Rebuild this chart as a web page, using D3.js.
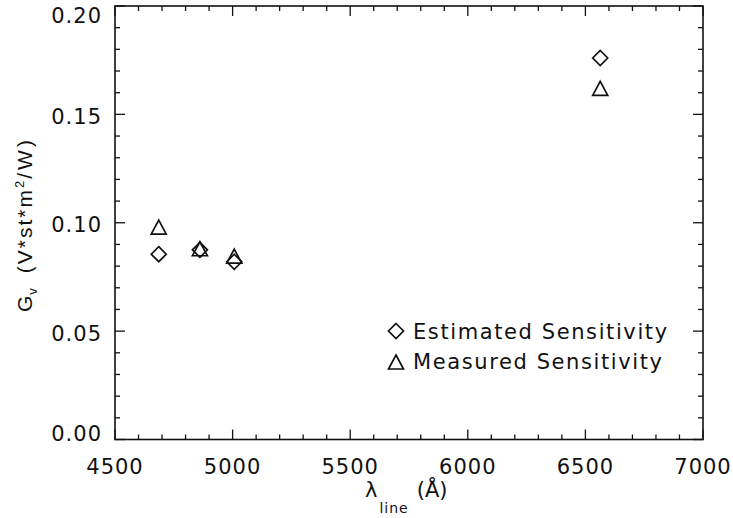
<!DOCTYPE html>
<html>
<head>
<meta charset="utf-8">
<script src="https://cdn.jsdelivr.net/npm/d3@7"></script>
<style>
  body { margin: 0; background: #fff; }
  svg text { font-family: "DejaVu Sans", sans-serif; fill: #111; }
</style>
</head>
<body>
<svg id="chart" width="733" height="518"></svg>
<script>
// Data
var lines = [4686, 4861, 5007, 6563];          // wavelength, Angstrom
var estimated = [0.0855, 0.0875, 0.082, 0.176]; // diamonds
var measured = [0.098, 0.088, 0.0846, 0.162];   // triangles
var xTicks = [4500, 5000, 5500, 6000, 6500, 7000];
var yTicks = [0.00, 0.05, 0.10, 0.15, 0.20];
var legendLabels = ["Estimated Sensitivity", "Measured Sensitivity"];

var width = 733,
    height = 518,
    margin = {top: 6, right: 30, bottom: 78.5, left: 115};

var svg = d3.select("#chart");

var x = d3.scaleLinear()
    .domain([4500, 7000])
    .range([margin.left, width - margin.right]);

var y = d3.scaleLinear()
    .domain([0, 0.2])
    .range([height - margin.bottom, margin.top]);

var x0 = x.range()[0], x1 = x.range()[1],
    y0 = y.range()[0], y1 = y.range()[1];

// Frame
svg.append("rect")
    .attr("x", x0).attr("y", y1)
    .attr("width", x1 - x0).attr("height", y0 - y1)
    .attr("fill", "none").attr("stroke", "#111").attr("stroke-width", 1.6);

// Ticks on all four sides (IDL style, pointing inward)
var ticks = svg.append("g").attr("stroke", "#111").attr("stroke-width", 1.3);
d3.range(4500, 7001, 100).forEach(function(v) {
    var len = v % 500 === 0 ? 10 : 5;
    ticks.append("line").attr("x1", x(v)).attr("x2", x(v)).attr("y1", y0).attr("y2", y0 - len);
    ticks.append("line").attr("x1", x(v)).attr("x2", x(v)).attr("y1", y1).attr("y2", y1 + len);
});
d3.range(0, 21).forEach(function(i) {
    var v = i / 100;
    var len = i % 5 === 0 ? 10 : 5;
    ticks.append("line").attr("y1", y(v)).attr("y2", y(v)).attr("x1", x0).attr("x2", x0 + len);
    ticks.append("line").attr("y1", y(v)).attr("y2", y(v)).attr("x1", x1).attr("x2", x1 - len);
});

// Tick labels
svg.append("g").selectAll("text")
    .data(xTicks).enter().append("text")
    .attr("x", function(d) { return x(d); })
    .attr("y", y0 + 34)
    .attr("text-anchor", "middle")
    .attr("font-size", 21)
    .attr("letter-spacing", 1)
    .text(function(d) { return d; });

svg.append("g").selectAll("text")
    .data(yTicks).enter().append("text")
    .attr("x", x0 - 13)
    .attr("y", function(d) { return Math.min(Math.max(y(d) + 2, y1 + 9.5), y0 - 6.5); })
    .attr("dy", "0.36em")
    .attr("text-anchor", "end")
    .attr("font-size", 21)
    .attr("letter-spacing", 1)
    .text(function(d) { return d3.format(".2f")(d); });

// Axis titles
var xt = svg.append("text")
    .attr("x", 365).attr("y", 497)
    .attr("font-size", 21);
xt.append("tspan").text("λ");
xt.append("tspan").attr("font-size", 14).attr("dy", 16).attr("dx", 2)
    .attr("letter-spacing", 1).text("line");
xt.append("tspan").attr("dy", -16).attr("dx", 8).text("(Å)");

var yt = svg.append("text")
    .attr("transform", "translate(32,312) rotate(-90)")
    .style("font-family", "'Liberation Sans', Arial, sans-serif")
    .attr("font-size", 21);
yt.append("tspan").text("G");
yt.append("tspan").attr("font-size", 13).attr("dy", 5).attr("dx", 1).text("v");
yt.append("tspan").attr("dy", -5).attr("dx", 15).attr("letter-spacing", 2).text("(V*st*m");
yt.append("tspan").attr("font-size", 13).attr("dy", -8).text("2");
yt.append("tspan").attr("dy", 8).attr("dx", 2).attr("letter-spacing", 3).text("/W)");

// Symbols
function diamond(g, cx, cy) {
    var r = 7.5;
    g.append("path")
        .attr("d", "M" + cx + "," + (cy - r) + "L" + (cx + r) + "," + cy +
                   "L" + cx + "," + (cy + r) + "L" + (cx - r) + "," + cy + "Z")
        .attr("fill", "none").attr("stroke", "#111").attr("stroke-width", 1.7);
}
function triangle(g, cx, cy) {
    var h = 7, w = 7.5;
    g.append("path")
        .attr("d", "M" + cx + "," + (cy - h) + "L" + (cx + w) + "," + (cy + h) +
                   "L" + (cx - w) + "," + (cy + h) + "Z")
        .attr("fill", "none").attr("stroke", "#111").attr("stroke-width", 1.7);
}

var marks = svg.append("g");
lines.forEach(function(l, i) {
    diamond(marks, x(l), y(estimated[i]));
    triangle(marks, x(l), y(measured[i]));
});

// Legend
var legend = svg.append("g");
diamond(legend, 396, 331);
triangle(legend, 396, 362);
legend.selectAll("text")
    .data(legendLabels).enter().append("text")
    .attr("x", 413)
    .attr("y", function(d, i) { return 339 + i * 30; })
    .attr("font-size", 21)
    .attr("letter-spacing", 1.6)
    .text(function(d) { return d; });
</script>
</body>
</html>
